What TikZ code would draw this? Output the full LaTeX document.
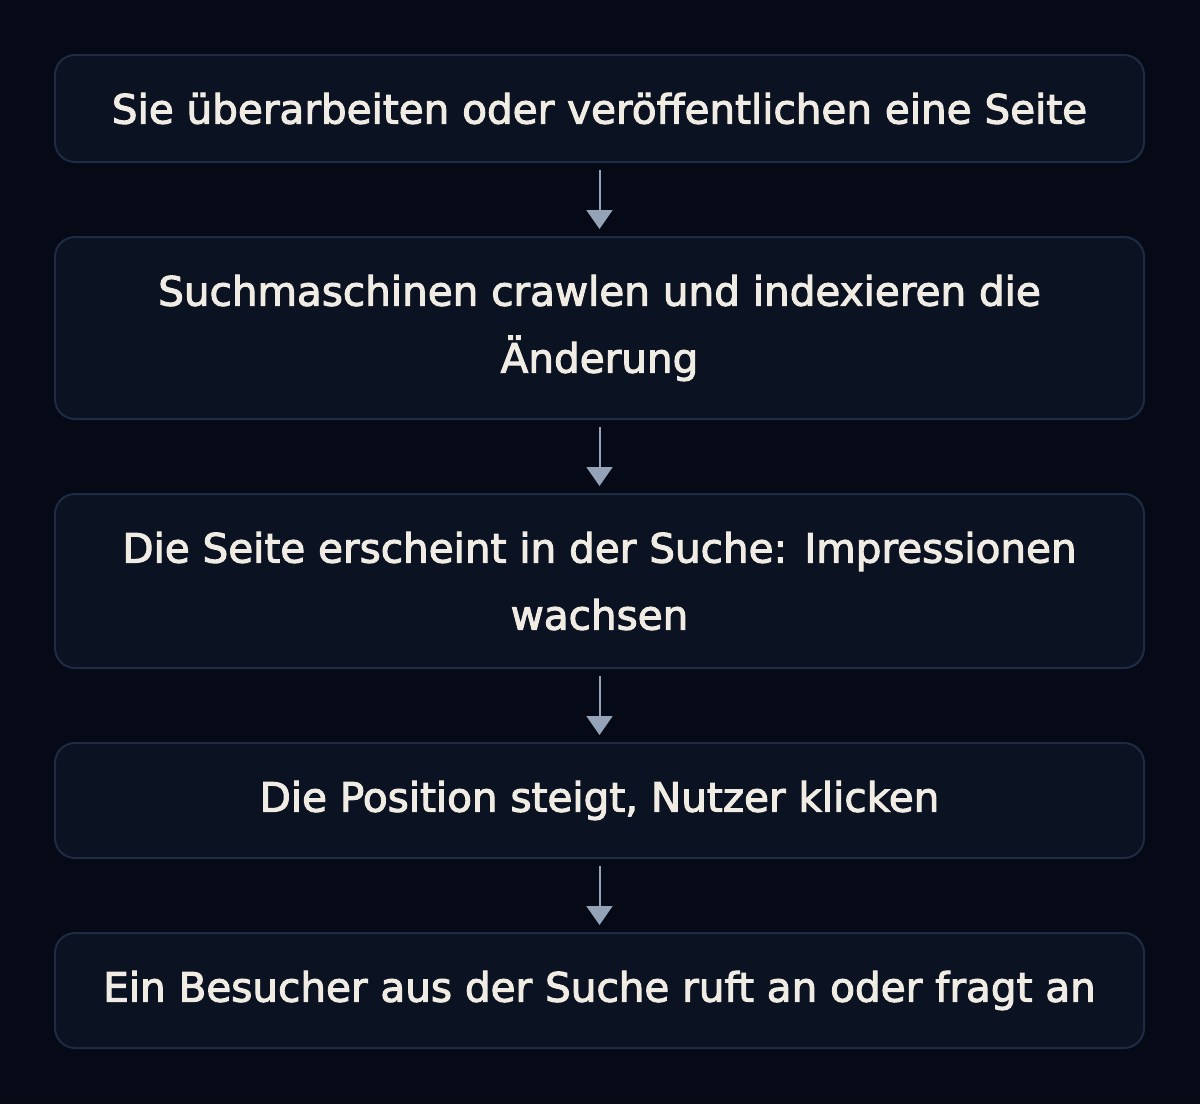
\documentclass[tikz,border=0pt]{standalone}
\usepackage{fontspec}
\setmainfont{DejaVu Sans}[FakeBold=2.6]
\usetikzlibrary{positioning,arrows.meta}
\definecolor{bgcol}{HTML}{050A16}
\definecolor{boxfill}{HTML}{0B1221}
\definecolor{boxline}{HTML}{1F2B45}
\definecolor{arrowcol}{HTML}{94A3B8}
\definecolor{textcol}{HTML}{F0ECE4}
\begin{document}
\begin{tikzpicture}[x=1pt,y=-1pt,
  stepbox/.style={draw=boxline, line width=2pt, fill=boxfill, rounded corners=20pt,
    minimum width=1089pt, outer sep=0pt, text=textcol, align=center,
    font=\fontsize{40.5}{67}\selectfont},
  flow/.style={draw=arrowcol, line width=2pt, -{Triangle[width=26pt,length=19pt]},
    shorten <=8pt, shorten >=8pt},
  node distance=75pt]
\fill[bgcol] (0,0) rectangle (1200,1104);
\useasboundingbox (0,0) rectangle (1200,1104);

\node[stepbox, minimum height=107pt] (edit) at (599.5,108.5) {Sie überarbeiten oder veröffentlichen eine Seite};
\node[stepbox, minimum height=182pt, below=of edit] (crawl) {Suchmaschinen crawlen und indexieren die\\Änderung};
\node[stepbox, minimum height=174pt, below=of crawl] (search) {Die Seite erscheint in der Suche: Impressionen\\wachsen};
\node[stepbox, minimum height=115pt, below=of search] (rank) {Die Position steigt, Nutzer klicken};
\node[stepbox, minimum height=115pt, below=of rank] (visit) {Ein Besucher aus der Suche ruft an oder fragt an};

\draw[flow] (edit) -- (crawl);
\draw[flow] (crawl) -- (search);
\draw[flow] (search) -- (rank);
\draw[flow] (rank) -- (visit);
\end{tikzpicture}
\end{document}
